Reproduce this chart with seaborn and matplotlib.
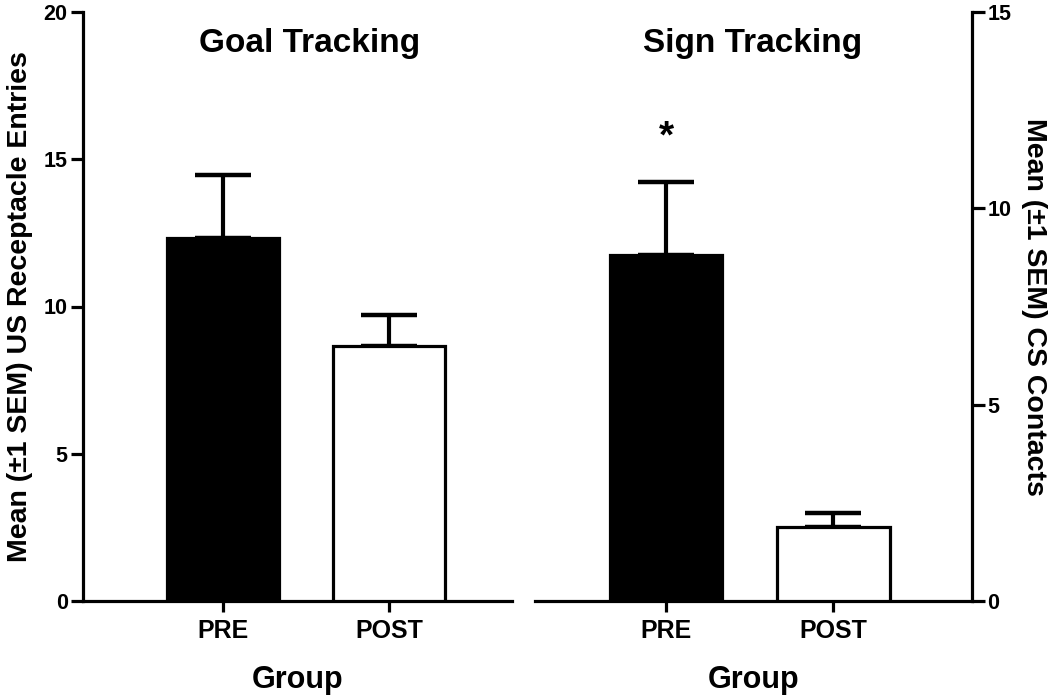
import numpy as np
import pandas as pd
import matplotlib
matplotlib.use("Agg")
import matplotlib.pyplot as plt
import seaborn as sns

groups = ["PRE", "POST"]

# Goal tracking: US receptacle entries (left axis)
goal_mean = [12.32, 8.67]
goal_sem = [2.16, 1.05]

# Sign tracking: CS contacts (right axis)
sign_mean = [8.80, 1.88]
sign_sem = [1.87, 0.37]

bar_fill = ["black", "white"]

sns.set_style("white")
plt.rcParams["font.family"] = ["Liberation Sans", "DejaVu Sans"]
plt.rcParams["font.weight"] = "bold"
for k in ["text.color", "axes.labelcolor", "xtick.color", "ytick.color",
          "axes.edgecolor"]:
    plt.rcParams[k] = "black"

fig = plt.figure(figsize=(10.5, 6.96), dpi=100)
ax1 = fig.add_axes([83 / 1050, 1 - 601 / 696, 429 / 1050, 589 / 696])
ax2 = fig.add_axes([535 / 1050, 1 - 601 / 696, 437 / 1050, 589 / 696])

lw = 2.3


def draw_panel(ax, means, sems, title, xlim, tx):
    df = pd.DataFrame({"Group": groups, "value": means})
    sns.barplot(data=df, x="Group", y="value", hue="Group", palette=bar_fill,
                legend=False, width=0.675, edgecolor="black", linewidth=lw,
                ax=ax, zorder=3)
    ax.errorbar(np.arange(len(groups)), means, yerr=[np.zeros(len(sems)), sems],
                fmt="none", ecolor="black", elinewidth=3, capsize=20,
                capthick=3.2, zorder=2)
    ax.set_xlim(*xlim)
    ax.set_xlabel("Group", fontsize=22, fontweight="bold", labelpad=16)
    ax.text(tx, 0.947, title, transform=ax.transAxes, ha="center", va="center",
            fontsize=24, fontweight="bold")
    ax.tick_params(axis="x", length=8, width=lw, labelsize=18, pad=5,
                   direction="out", bottom=True)
    for lab in ax.get_xticklabels():
        lab.set_fontweight("bold")
    for s in ax.spines.values():
        s.set_linewidth(lw)
    ax.spines["top"].set_visible(False)


draw_panel(ax1, goal_mean, goal_sem, "Goal Tracking", (-0.843, 1.74), 0.527)
ax1.set_ylim(0, 20)
ax1.set_yticks([0, 5, 10, 15, 20])
ax1.spines["right"].set_visible(False)
ax1.tick_params(axis="y", length=9, width=lw, labelsize=15.5, pad=2, left=True)
ax1.set_ylabel("Mean (\u00b11 SEM) US Receptacle Entries", fontsize=20.5,
               fontweight="bold", labelpad=8)

draw_panel(ax2, sign_mean, sign_sem, "Sign Tracking", (-0.784, 1.83), 0.497)
ax2.set_ylim(0, 15)
ax2.set_yticks([0, 5, 10, 15])
ax2.spines["left"].set_visible(False)
ax2.yaxis.tick_right()
ax2.yaxis.set_label_position("right")
ax2.tick_params(axis="y", length=9, width=lw, labelsize=15.5, pad=2,
                right=True, left=False)
ax2.set_ylabel("Mean (\u00b11 SEM) CS Contacts", fontsize=20.5, fontweight="bold",
               rotation=270, labelpad=26)
ax2.text(0, 11.8, "*", ha="center", va="center", fontsize=28, fontweight="bold")

for ax in (ax1, ax2):
    for lab in ax.get_yticklabels():
        lab.set_fontweight("bold")

fig.savefig("out.png", dpi=100)
